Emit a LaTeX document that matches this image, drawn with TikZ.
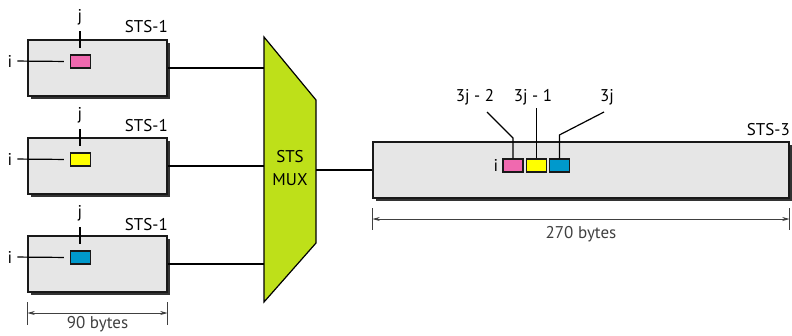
\documentclass[tikz,border=0pt]{standalone}
\usepackage{fontspec}
\setmainfont{PT Sans}
\usetikzlibrary{arrows.meta,calc,positioning,shadows}

\definecolor{framegray}{RGB}{230,230,230}
\definecolor{slotpink}{RGB}{240,105,175}
\definecolor{slotyellow}{RGB}{255,255,0}
\definecolor{slotcyan}{RGB}{0,153,204}
\definecolor{muxgreen}{RGB}{190,224,25}

\begin{document}
\begin{tikzpicture}[
  x=1pt, y=-1pt,
  >={Stealth[length=2.6mm,width=1.4mm]},
  line cap=butt,
  line join=miter,
  every node/.style={font=\fontsize{17}{23}\selectfont, inner sep=0pt},
  frame/.style={draw=black!90, line width=1.2pt, fill=framegray,
    drop shadow={shadow xshift=3pt, shadow yshift=-3pt, opacity=1, fill=black!80}},
  slot/.style={draw=black!90, line width=1.2pt, minimum width=20pt, minimum height=13pt},
  wire/.style={line width=1.2pt},
  dim/.style={black!75, line width=0.8pt}
]
  \useasboundingbox (0,0) rectangle (792,335);

  % STS-1 input frames
  \node[frame, minimum width=139pt, minimum height=56pt] (f1) at (97.5,68) {};
  \node[frame, minimum width=139pt, minimum height=56pt] (f2) at (97.5,166) {};
  \node[frame, minimum width=139pt, minimum height=56pt] (f3) at (97.5,264) {};

  \node[anchor=east] (n1) at (168,27) {STS-1};
  \node[anchor=east] (n2) at (168,126) {STS-1};
  \node[anchor=east] (n3) at (168,225) {STS-1};

  % Byte i,j of each input frame
  \node[slot, fill=slotpink]   (s1) at (80.5,61.5) {};
  \node[slot, fill=slotyellow] (s2) at (80.5,159.5) {};
  \node[slot, fill=slotcyan]   (s3) at (80.5,257.5) {};

  \node (i1) at (10,61) {i};
  \node (i2) at (10,159) {i};
  \node (i3) at (10,257) {i};
  \node (j1) at (80,17) {j};
  \node (j2) at (80,115) {j};
  \node (j3) at (80,213) {j};

  \draw[wire, shorten <=5pt, shorten >=6pt] (i1.east) -- (s1.west);
  \draw[wire, shorten <=5pt, shorten >=6pt] (i2.east) -- (s2.west);
  \draw[wire, shorten <=5pt, shorten >=6pt] (i3.east) -- (s3.west);
  \draw[wire, shorten <=6pt, shorten >=6pt] (j1.south) -- (j1.south |- s1.north);
  \draw[wire, shorten <=6pt, shorten >=6pt] (j2.south) -- (j2.south |- s2.north);
  \draw[wire, shorten <=6pt, shorten >=6pt] (j3.south) -- (j3.south |- s3.north);

  % Multiplexer
  \coordinate (mux-tl) at (264,37);
  \coordinate (mux-tr) at (316,100);
  \coordinate (mux-br) at (316,243);
  \coordinate (mux-bl) at (264,302);
  \draw[wire, fill=muxgreen] (mux-tl) -- (mux-tr) -- (mux-br) -- (mux-bl) -- cycle;
  \node[align=center, font=\fontsize{17}{23}\selectfont] (mux) at (290,168) {STS\\MUX};

  \draw[wire] (f1.east) -- (f1.east -| mux-tl);
  \draw[wire] (f2.east) -- (f2.east -| mux-tl);
  \draw[wire] (f3.east) -- (f3.east -| mux-tl);

  % STS-3 output frame
  \node[frame, minimum width=416pt, minimum height=56pt] (f4) at (581,170) {};
  \node[anchor=east] (n4) at (790,130) {STS-3};
  \draw[wire] (mux-tr |- f4.west) -- (f4.west);

  \node[slot, fill=slotpink] (t1) at (513,165.5) {};
  \node[slot, fill=slotyellow, right=2pt of t1] (t2) {};
  \node[slot, fill=slotcyan, right=2pt of t2] (t3) {};
  \node (i4) at (496,165) {i};

  % Interleaved byte labels
  \node (l1) at (475,97) {3j - 2};
  \node (l2) at (533,97) {3j - 1};
  \node (l3) at (607,97) {3j};
  \coordinate (k1) at (487,112);
  \coordinate (k2) at (537,108);
  \coordinate (k3) at (604,112);
  \draw[wire] (k1) -- (t1.north |- 0,138) -- (t1.north);
  \draw[wire] (t2.north |- k2) -- (t2.north);
  \draw[wire] (k3) -- (t3.north |- 0,135) -- (t3.north);

  % Frame widths
  \draw[dim] (f3.south west |- 0,302) -- (f3.south west |- 0,325);
  \draw[dim] (f3.south east |- 0,302) -- (f3.south east |- 0,325);
  \draw[dim, <->] (f3.south west |- 0,313) -- node[below=3pt] (w1) {90 bytes} (f3.south east |- 0,313);

  \draw[dim] (f4.south west |- 0,208) -- (f4.south west |- 0,230);
  \draw[dim] (f4.south east |- 0,208) -- (f4.south east |- 0,230);
  \draw[dim, <->] (f4.south west |- 0,219) -- node[below=7pt] (w2) {270 bytes} (f4.south east |- 0,219);
\end{tikzpicture}
\end{document}
